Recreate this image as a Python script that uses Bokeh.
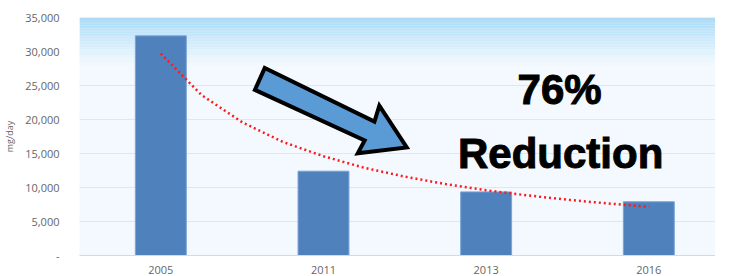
from bokeh.plotting import figure
from bokeh.models import (FixedTicker, NumeralTickFormatter, BoxAnnotation, Range1d,
                          ColumnDataSource)
from bokeh.core.properties import value
from bokeh.embed import file_html
from bokeh.resources import INLINE

# ---- data ----
years = ["2005", "2011", "2013", "2016"]
mg_per_day = [32300, 12400, 9350, 7900]
# red dotted trend line, values at fractional category positions
trend_pos = [1.0, 1.25, 1.5, 1.75, 2.0, 2.25, 2.5, 2.75, 3.0, 3.25, 3.5, 3.75, 4.0]
trend_val = [29700, 23600, 19600, 16700, 14600, 12900, 11600, 10500, 9600, 8850, 8200, 7650, 7150]
y_ticks = [0, 5000, 10000, 15000, 20000, 25000, 30000, 35000]
headline = "76%"
subline = "Reduction"

xs = [i + 0.5 for i in range(len(years))]
trend_x = [t - 0.5 for t in trend_pos]

p = figure(width=715, height=276, output_backend="svg", toolbar_location=None,
           x_range=Range1d(0, 3.91), y_range=Range1d(0, 35000),
           min_border_left=66, min_border_right=0, min_border_top=17, min_border_bottom=18)
p.outline_line_color = None
p.background_fill_color = "#f3f9fe"
p.border_fill_color = "white"

# gradient at the top of the plot area
top_c = (160, 216, 249)
bot_c = (241, 248, 253)
n = 30
span = 7000
for i in range(n):
    t = (i / (n - 1)) ** 0.8
    c = tuple(int(round(a + (b - a) * t)) for a, b in zip(top_c, bot_c))
    p.add_layout(BoxAnnotation(top=35000 - i * span / n, bottom=35000 - (i + 1) * span / n,
                               fill_color="#%02x%02x%02x" % c, fill_alpha=1,
                               line_color=None, level="underlay"))

p.ygrid.grid_line_color = "#e2e6ea"
p.ygrid.grid_line_width = 1
p.xgrid.grid_line_color = None
p.ygrid.ticker = FixedTicker(ticks=y_ticks)

src = ColumnDataSource(dict(x=xs, top=mg_per_day))
p.vbar(x="x", top="top", width=0.313, source=src, fill_color="#4f81bd",
       line_color="#7aa3d4", line_width=1)

p.line(trend_x, trend_val, line_color="#ff1a1a", line_width=2.5, line_dash="2 3")

# block arrow (decoration)
ax = [(263 - 74) / 166, (253 - 74) / 166, (365 - 74) / 166, (358 - 74) / 166,
      (408 - 74) / 166, (380 - 74) / 166, (375 - 74) / 166]
ay_px = [68, 90, 141, 154, 148, 106, 122]
ay = [(257 - v) / 240 * 35000 for v in ay_px]
p.patch(ax, ay, fill_color="#5b9bd5", line_color="black", line_width=4, line_join="miter")

for txt, cx, by in [(headline, 564, 90), (subline, 565, 154)]:
    p.text(x=[(cx - 74) / 166], y=[(257 - by) / 240 * 35000], text=[txt],
           text_font=value("Liberation Sans"), text_font_style="bold",
           text_font_size="42px", text_align="center", text_baseline="alphabetic",
           text_color="black", text_outline_color="black")

# axes
p.yaxis.ticker = FixedTicker(ticks=y_ticks)
p.yaxis.formatter = NumeralTickFormatter(format="0,0")
p.yaxis.major_label_overrides = {0: "-"}
p.yaxis.axis_line_color = None
p.yaxis.major_tick_line_color = None
p.yaxis.minor_tick_line_color = None
p.yaxis.major_label_standoff = 14
p.yaxis.major_label_text_font = "Open Sans"
p.yaxis.major_label_text_font_size = "11px"
p.yaxis.major_label_text_color = "#666666"
p.yaxis.axis_label = "mg/day"
p.yaxis.axis_label_text_font = "Open Sans"
p.yaxis.axis_label_text_font_style = "normal"
p.yaxis.axis_label_text_font_size = "9px"
p.yaxis.axis_label_text_color = "#666666"
p.yaxis.axis_label_standoff = 6

p.xaxis.ticker = FixedTicker(ticks=xs)
p.xaxis.major_label_overrides = {x: y for x, y in zip(xs, years)}
p.xaxis.axis_line_color = "#d9d9d9"
p.xaxis.major_tick_line_color = None
p.xaxis.minor_tick_line_color = None
p.xaxis.major_label_standoff = 4
p.xaxis.major_label_text_font = "Open Sans"
p.xaxis.major_label_text_font_size = "11px"
p.xaxis.major_label_text_color = "#666666"

# top border line
p.add_layout(BoxAnnotation(top=35000, bottom=34900, fill_color="#e6e6e6",
                           fill_alpha=1, line_color=None, level="underlay"))

open("out.html", "w").write(file_html(p, INLINE))
